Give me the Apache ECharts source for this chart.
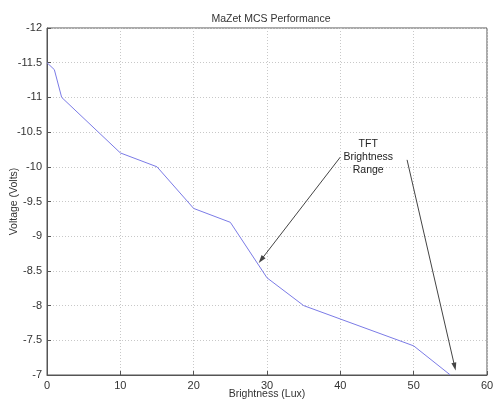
<!DOCTYPE html>
<html>
<head>
<meta charset="utf-8">
<script src="https://cdn.jsdelivr.net/npm/echarts@6/dist/echarts.min.js"></script>
<style>
html,body{margin:0;padding:0;background:#fff;}
#chart{width:493px;height:403px;}
</style>
</head>
<body>
<div id="chart"></div>
<script>
var brightness = [0, 1, 2, 10, 15, 20, 25, 30, 35, 50, 55];
var voltage = [-11.5, -11.4, -11.0, -10.2, -10.0, -9.4, -9.2, -8.4, -8.0, -7.42, -7.0];
var xTicks = [0, 10, 20, 30, 40, 50, 60];
var yTicks = [-12, -11.5, -11, -10.5, -10, -9.5, -9, -8.5, -8, -7.5, -7];
var annotationText = 'TFT\nBrightness\nRange';
var annotationPos = [43.8, -10.14];
var arrows = [
  [[40.0, -10.14], [29.2, -8.66]],
  [[49.1, -10.1], [55.6, -7.12]]
];

var font = 'Liberation Sans, Arial, sans-serif';
var chart = echarts.init(document.getElementById('chart'));
var points = brightness.map(function (b, i) { return [b, voltage[i]]; });

var axisCommon = {
  axisLine: { show: true, onZero: false, lineStyle: { color: '#555', width: 1 } },
  axisTick: { show: true, inside: true, length: 4, lineStyle: { color: '#555' } },
  splitLine: { show: true, lineStyle: { color: '#c8c8c8', type: [1, 2], width: 1 } },
  axisLabel: { color: '#333', fontFamily: font, fontSize: 11 },
  nameMoveOverlap: false
};

chart.setOption({
  animation: false,
  backgroundColor: '#fff',
  title: {
    text: 'MaZet MCS Performance',
    left: 266, top: 9, textAlign: 'center',
    textStyle: { fontFamily: font, fontSize: 10.5, fontWeight: 'normal', color: '#333' }
  },
  grid: { left: 47, top: 28, right: 6, bottom: 28, containLabel: false, outerBoundsMode: 'none',
          show: true, borderColor: '#555', borderWidth: 1 },
  xAxis: Object.assign({}, axisCommon, {
    type: 'value', min: 0, max: 60, interval: 10,
    name: 'Brightness (Lux)', nameLocation: 'middle', nameGap: 14,
    nameTextStyle: { fontFamily: font, fontSize: 10.5, color: '#333' },
    axisLabel: Object.assign({}, axisCommon.axisLabel, { margin: 5 })
  }),
  yAxis: Object.assign({}, axisCommon, {
    type: 'value', min: -12, max: -7, interval: 0.5, inverse: true,
    name: 'Voltage (Volts)', nameLocation: 'middle', nameGap: 27,
    nameTextStyle: { fontFamily: font, fontSize: 10.5, color: '#333' },
    axisLabel: Object.assign({}, axisCommon.axisLabel, { margin: 5 })
  }),
  series: [{
    type: 'line',
    data: points,
    symbol: 'none',
    lineStyle: { color: '#7b7be6', width: 1 },
    markLine: {
      silent: true,
      symbol: ['none', 'triangle'],
      symbolSize: [5, 8],
      lineStyle: { color: '#444', width: 1, type: 'solid' },
      label: { show: false },
      data: arrows.map(function (a) {
        return [{ coord: a[0] }, { coord: a[1] }];
      })
    },
    markPoint: {
      silent: true,
      symbol: 'circle', symbolSize: 0,
      data: [{ coord: annotationPos, value: annotationText }],
      label: {
        show: true, position: 'inside', formatter: annotationText,
        fontFamily: font, fontSize: 10.5, color: '#222', lineHeight: 13, align: 'center'
      }
    }
  }]
});
</script>
</body>
</html>
